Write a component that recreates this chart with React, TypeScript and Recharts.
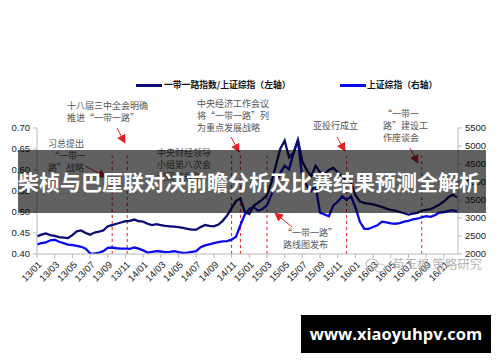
import React from "react";
import { LineChart, Line, XAxis, YAxis, ReferenceLine, Legend } from "recharts";

// semi-monthly readings, Jan 2013 .. Dec 2016
const ratioIdx = [
  0.442, 0.446, 0.449, 0.445, 0.443, 0.440, 0.439, 0.438, 0.445, 0.454, 0.456, 0.450,
  0.446, 0.451, 0.453, 0.456, 0.466, 0.469, 0.472, 0.475, 0.478, 0.479, 0.482, 0.478,
  0.477, 0.472, 0.469, 0.471, 0.469, 0.467, 0.466, 0.465, 0.464, 0.462, 0.460, 0.458,
  0.458, 0.464, 0.469, 0.467, 0.466, 0.470, 0.479, 0.492, 0.509, 0.526, 0.532, 0.500,
  0.495, 0.515, 0.522, 0.530, 0.540, 0.570, 0.610, 0.650, 0.670, 0.630, 0.640, 0.672,
  0.620, 0.600, 0.585, 0.610, 0.595, 0.590, 0.600, 0.605, 0.595, 0.585, 0.576, 0.570,
  0.540, 0.525, 0.522, 0.520, 0.518, 0.515, 0.512, 0.508, 0.505, 0.503, 0.500, 0.497,
  0.494, 0.496, 0.498, 0.503, 0.505, 0.507, 0.512, 0.518, 0.525, 0.535, 0.541, 0.535,
];

const shComp = [
  2270, 2300, 2320, 2380, 2395, 2340, 2300, 2260, 2250, 2225, 2200, 2150,
  2020, 2010, 2040, 2080, 2170, 2180, 2160, 2150, 2150, 2140, 2180, 2150,
  2100, 2040, 2060, 2080, 2070, 2050, 2060, 2080, 2050, 2030, 2040, 2060,
  2080, 2190, 2240, 2270, 2300, 2330, 2350, 2360, 2400, 2480, 2800, 3100,
  3250, 3300, 3200, 3250, 3350, 3650, 3950, 4250, 4450, 4350, 4800, 5150,
  4100, 3900, 3750, 3900, 3150, 3100, 3050, 3350, 3450, 3600, 3500, 3600,
  3300, 2900, 2700, 2700, 2750, 2800, 2900, 2880, 2850, 2840, 2860, 2900,
  2920, 2960, 2980, 3020, 3050, 3030, 3080, 3150, 3160, 3200, 3220, 3180,
];

const tickMonths = [0, 2, 4, 6, 8, 10, 12, 14, 16, 18, 20, 22, 24, 26, 28, 30, 32, 34, 36, 38, 40, 42, 44, 46];
const tickLabels = [
  "13/01", "13/03", "13/05", "13/07", "13/09", "13/11",
  "14/01", "14/03", "14/05", "14/07", "14/09", "14/11",
  "15/01", "15/03", "15/05", "15/07", "15/09", "15/11",
  "16/01", "16/03", "16/05", "16/07", "16/09", "16/11",
];
const leftTicks = [0.4, 0.45, 0.5, 0.55, 0.6, 0.65, 0.7];
const rightTicks = [2000, 2500, 3000, 3500, 4000, 4500, 5000, 5500];
const eventMonths = [8.5, 10.2, 22.0, 23.0, 26.0, 35.0, 43.5];

const seriesNames = ["一带一路指数/上证综指（左轴）", "上证综指（右轴）"];
const title = "柴桢与巴厘联对决前瞻分析及比赛结果预测全解析";

const data = ratioIdx.map((v, i) => ({ t: i / 2, ratio: v, sh: shComp[i] }));

const NAVY = "#0b0b78";
const BLUE = "#0a0af0";
const RED = "#e52222";
const AXIS = "#b8b8b8";
const numFont = "'Liberation Sans', Arial, sans-serif";
const cjk = "'Noto Sans CJK SC', sans-serif";

const XTick = (props: any) => {
  const { x, y, payload } = props;
  const lbl = tickLabels[tickMonths.indexOf(payload.value)];
  const ax = x + 3;
  const ay = y + 3;
  return (
    <text x={ax} y={ay} transform={`rotate(-45 ${ax} ${ay})`} textAnchor="end" dy="0.35em"
      fontSize={9.5} fill="#222" fontFamily={numFont}>
      {lbl}
    </text>
  );
};

const LegendBox = () => (
  <div style={{ position: "relative", height: 14, fontFamily: cjk, fontSize: 8.8, color: "#111", fontWeight: 700 }}>
    <div style={{ position: "absolute", left: 136, top: 6, width: 26, height: 2.5, background: NAVY }} />
    <span style={{ position: "absolute", left: 164, top: 0, whiteSpace: "nowrap" }}>{seriesNames[0]}</span>
    <div style={{ position: "absolute", left: 340, top: 6, width: 26, height: 2.5, background: BLUE }} />
    <span style={{ position: "absolute", left: 367, top: 0, whiteSpace: "nowrap" }}>{seriesNames[1]}</span>
  </div>
);

const notes = [
  { x: 67, y: 107, lines: ["十八届三中全会明确", "推进“一带一路”"] },
  { x: 48, y: 145, lines: ["习总提出", " “一带一", "路”战略"] },
  { x: 157, y: 154, lines: ["中央财经领导", "小组第八次会", "议研究规划"] },
  { x: 197, y: 105, lines: ["中央经济工作会议", "将“一带一路”列", "为重点发展战略"] },
  { x: 313, y: 127, lines: ["亚投行成立"] },
  { x: 383, y: 115, lines: ["“一带一", "路”建设工", "作座谈会"] },
  { x: 283, y: 234, lines: [" “一带一路”", "路线图发布"] },
];

const arrows = [
  [117, 128, 125, 143],
  [85, 166, 106, 177],
  [231, 137, 239, 152],
  [337, 137, 345, 151],
  [410, 148, 418, 163],
  [292, 227, 275, 213],
];

export default function App() {
  return (
    <div style={{ position: "absolute", left: 0, top: 0, width: 500, height: 362, background: "#fff", overflow: "hidden" }}>
      <LineChart width={500} height={362} data={data} margin={{ top: 114, right: 0, left: 0, bottom: 58 }}>
        <XAxis dataKey="t" type="number" domain={[0, 47.6]} ticks={tickMonths} interval={0} height={50}
          tick={<XTick />} tickSize={4} axisLine={{ stroke: AXIS }} tickLine={{ stroke: AXIS }} />
        <YAxis yAxisId="left" orientation="left" width={37} domain={[0.4, 0.7]} ticks={leftTicks}
          tickFormatter={(v: number) => v.toFixed(2)} tickSize={4} tickMargin={3}
          tick={{ fontSize: 9.5, fill: "#222", fontFamily: numFont }}
          axisLine={{ stroke: AXIS }} tickLine={{ stroke: AXIS }} allowDataOverflow />
        <YAxis yAxisId="right" orientation="right" width={42} domain={[2000, 5500]} ticks={rightTicks}
          tickSize={4} tickMargin={3} tick={{ fontSize: 9.5, fill: "#222", fontFamily: numFont, textAnchor: "start" }}
          axisLine={{ stroke: AXIS }} tickLine={{ stroke: AXIS }} allowDataOverflow />
        <Legend verticalAlign="top" content={<LegendBox />}
          wrapperStyle={{ position: "absolute", top: 78, left: 0, width: 500 }} />
        {eventMonths.map((m) => (
          <ReferenceLine key={m} yAxisId="left" segment={[{ x: m, y: 0.4 }, { x: m, y: 0.634 }]}
            stroke={RED} strokeDasharray="3 3" strokeWidth={1} />
        ))}
        <Line yAxisId="right" dataKey="sh" stroke={BLUE} strokeWidth={2.3} dot={false} isAnimationActive={false} />
        <Line yAxisId="left" dataKey="ratio" stroke={NAVY} strokeWidth={2.3} dot={false} isAnimationActive={false} />
      </LineChart>

      <svg width={500} height={362} style={{ position: "absolute", left: 0, top: 0, pointerEvents: "none" }}>
        <defs>
          <marker id="ah" viewBox="0 0 10 10" refX="9" refY="5" markerWidth="9" markerHeight="9"
            markerUnits="userSpaceOnUse" orient="auto">
            <path d="M0,0 L10,5 L0,10 z" fill={RED} />
          </marker>
        </defs>
        {notes.map((n, i) => (
          <text key={i} x={n.x} y={n.y} fontSize={9} fill="#555" fontFamily={cjk} dominantBaseline="middle">
            {n.lines.map((l, j) => (
              <tspan key={j} x={n.x} y={n.y + j * 12}>{l}</tspan>
            ))}
          </text>
        ))}
        {arrows.map((a, i) => (
          <line key={i} x1={a[0]} y1={a[1]} x2={a[2]} y2={a[3]} stroke={RED} strokeWidth={1} markerEnd="url(#ah)" />
        ))}
        <g opacity={0.75} fill="none" stroke="#aaa" strokeWidth={1.2}>
          <ellipse cx={372} cy={264} rx={6} ry={5} />
          <ellipse cx={380} cy={268} rx={5} ry={4} />
        </g>
        <text x={392} y={266} fontSize={12.5} fill="#aaa" opacity={0.85} fontFamily={cjk} dominantBaseline="middle">
          荀玉根 策略研究
        </text>
      </svg>

      <div style={{ position: "absolute", left: 18, top: 150, width: 468, height: 63, background: "rgba(0,0,0,0.62)",
        color: "#fff", fontFamily: cjk, fontWeight: 700, fontSize: 21, lineHeight: "63px", whiteSpace: "nowrap",
        paddingLeft: 0, letterSpacing: 0 }}>
        {title}
      </div>

      <div style={{ position: "absolute", left: 301, top: 315, width: 190, height: 38, background: "#000",
        color: "#fff", fontFamily: "'Open Sans', sans-serif", fontWeight: 700, fontSize: 16.5, lineHeight: "38px",
        textAlign: "center" }}>
        www.xiaoyuhpv.com
      </div>
    </div>
  );
}
